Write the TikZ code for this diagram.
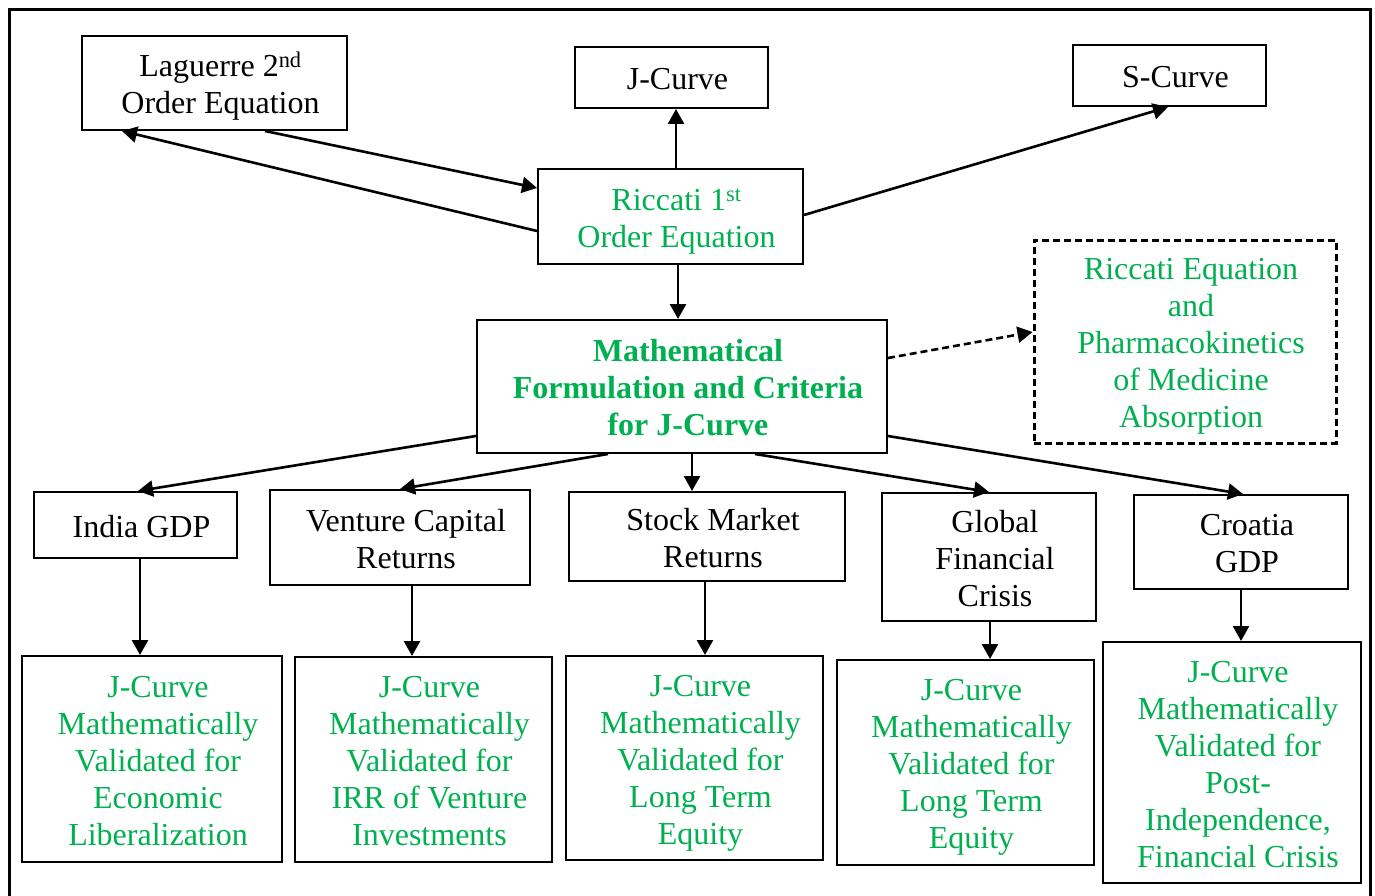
\documentclass[tikz,border=0pt]{standalone}
\usepackage{fontspec}
\setmainfont{Liberation Serif}
\usetikzlibrary{arrows.meta,calc}
\definecolor{jgreen}{RGB}{0,176,80}
% centred lines, set a little right of and below the box centre
\newcommand\bxt[1]{\vbox{\vskip10pt\hbox{\hspace*{12pt}\begin{tabular}{@{}c@{}}#1\end{tabular}}}}

\begin{document}
\begin{tikzpicture}[x=1pt,y=-1pt,
  box/.style={draw,line width=2pt,inner sep=0pt,
    font=\fontsize{32}{37}\selectfont},
  gbox/.style={box,text=jgreen},
  dbox/.style={gbox,line width=3pt,dash pattern=on 7pt off 4pt},
  conn/.style={line width=2.6pt,-{Triangle[length=15pt,width=16pt]}},
]
\useasboundingbox (0,0) rectangle (1375,896);
% outer frame
\draw[line width=3pt] (9.5,9.5) rectangle (1370.5,912);

% top row
\node[box,minimum width=265pt,minimum height=94pt] (lag) at (214.5,83)
  {\bxt{Laguerre 2\textsuperscript{nd}\\Order Equation}};
\node[box,minimum width=193pt,minimum height=61pt] (jc) at (671.5,77.5) {\bxt{J-Curve}};
\node[box,minimum width=193pt,minimum height=61pt] (sc) at (1169.5,75.5) {\bxt{S-Curve}};

% Riccati equation
\node[gbox,minimum width=265pt,minimum height=95pt] (ric) at (670.5,216.5)
  {\bxt{Riccati 1\textsuperscript{st}\\Order Equation}};

% central formulation
\node[gbox,minimum width=410pt,minimum height=133pt,font=\fontsize{32}{37}\selectfont\bfseries]
  (math) at (682,386.5)
  {\bxt{Mathematical\\Formulation and Criteria\\for J-Curve}};

% pharmacokinetics
\node[dbox,minimum width=302pt,minimum height=203pt] (rpk) at (1185,341.5)
  {\bxt{Riccati Equation\\and\\Pharmacokinetics\\of Medicine\\Absorption}};

% application domains
\node[box,minimum width=203pt,minimum height=66pt] (ind) at (135.5,525) {\bxt{India GDP}};
\node[box,minimum width=260pt,minimum height=95pt] (vc) at (400,537.5)
  {\bxt{Venture Capital\\Returns}};
\node[box,minimum width=276pt,minimum height=89pt] (sm) at (707,536.5)
  {\bxt{Stock Market\\Returns}};
\node[box,minimum width=214pt,minimum height=128pt] (gfc) at (989,557)
  {\bxt{Global\\Financial\\Crisis}};
\node[box,minimum width=214pt,minimum height=94pt] (cro) at (1241,542)
  {\bxt{Croatia\\GDP}};

% validation results
\node[gbox,minimum width=260pt,minimum height=206pt] (v1) at (152,759)
  {\bxt{J-Curve\\Mathematically\\Validated for\\Economic\\Liberalization}};
\node[gbox,minimum width=257pt,minimum height=205pt] (v2) at (423.5,759.5)
  {\bxt{J-Curve\\Mathematically\\Validated for\\IRR of Venture\\Investments}};
\node[gbox,minimum width=257pt,minimum height=204pt] (v3) at (694.5,758)
  {\bxt{J-Curve\\Mathematically\\Validated for\\Long Term\\Equity}};
\node[gbox,minimum width=257pt,minimum height=205pt] (v4) at (965.5,762.5)
  {\bxt{J-Curve\\Mathematically\\Validated for\\Long Term\\Equity}};
\node[gbox,minimum width=258pt,minimum height=241pt] (v5) at (1232,762.5)
  {\bxt{J-Curve\\Mathematically\\Validated for\\Post-\\Independence,\\Financial Crisis}};

% connectors around the Riccati equation
\draw[conn] ([xshift=50.5pt]lag.south) -- ([yshift=28.5pt]ric.west);
\draw[conn] ([yshift=-14.5pt]ric.west) -- ([xshift=-92.5pt]lag.south);
\draw[conn] ([xshift=5.5pt]ric.north) -- ([xshift=5.5pt]ric.north |- jc.south);
\draw[conn] ([yshift=1.5pt]ric.east) -- ([xshift=-1.5pt]sc.south);
\draw[conn] ([xshift=7.5pt]ric.south) -- ([xshift=7.5pt]ric.south |- math.north);
\draw[conn,dash pattern=on 7pt off 4pt] ([yshift=28.5pt]math.east) -- ([yshift=9.5pt]rpk.west);

% formulation to domains
\draw[conn] ([yshift=-49.5pt]math.west) -- ([xshift=2.5pt]ind.north);
\draw[conn] ([xshift=-74pt]math.south) -- (vc.north);
\draw[conn] ([xshift=10pt]math.south) -- ([xshift=10pt]math.south |- sm.north);
\draw[conn] ([xshift=73pt]math.south) -- (gfc.north);
\draw[conn] ([yshift=-49.5pt]math.east) -- ([xshift=2pt]cro.north);

% domains to validations
\draw[conn] ([xshift=4.5pt]ind.south) -- ([xshift=4.5pt]ind.south |- v1.north);
\draw[conn] ([xshift=12pt]vc.south) -- ([xshift=12pt]vc.south |- v2.north);
\draw[conn] ([xshift=-2pt]sm.south) -- ([xshift=-2pt]sm.south |- v3.north);
\draw[conn] ([xshift=1pt]gfc.south) -- ([xshift=1pt]gfc.south |- v4.north);
\draw[conn] (cro.south) -- (cro.south |- v5.north);
\end{tikzpicture}
\end{document}
